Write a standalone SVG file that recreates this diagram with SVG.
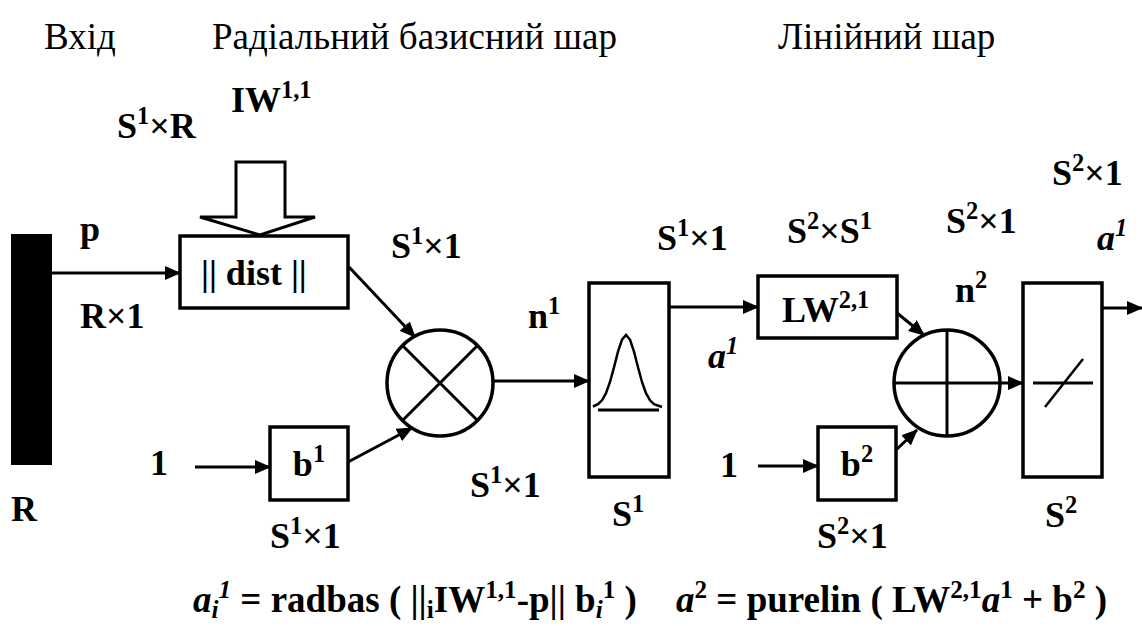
<svg xmlns="http://www.w3.org/2000/svg" width="1142" height="626" viewBox="0 0 1142 626">
<style>
text{font-family:'Liberation Serif','Times New Roman',Times,serif;fill:#000}
.t{font-size:37px}
.l{font-size:36px;font-weight:700}
.f{font-size:37px;font-weight:700}
.s{font-size:68%}
.box{fill:#fff;stroke:#000;stroke-width:3.5}
.ln{fill:none;stroke:#000;stroke-width:3}
.thin{fill:none;stroke:#000;stroke-width:2.5}
</style>
<defs>
<marker id="ah" markerUnits="userSpaceOnUse" markerWidth="16" markerHeight="14" refX="15" refY="7" orient="auto">
<path d="M0,0 L16,7 L0,14 Z" fill="#000"/>
</marker>
</defs>
<rect width="1142" height="626" fill="#fff"/>

<g id="titles">
<text class="t" x="44" y="49">Вхід</text>
<text class="t" x="212" y="49">Радіальний базисний шар</text>
<text class="t" x="778" y="49">Лінійний шар</text>
</g>

<g id="input">
<rect x="11" y="234" width="41" height="231" fill="#000"/>
<text class="l" x="80" y="241">p</text>
<text class="l" x="80" y="328">R×1</text>
<text class="l" x="11" y="521">R</text>
</g>

<g id="weight-input">
<polygon points="236,162 285,162 285,217 315,217 260,235 200,217 236,217" fill="#fff" stroke="#000" stroke-width="3"/>
<text class="l" x="231" y="112">IW<tspan class="s" dy="-14">1,1</tspan></text>
<text class="l" x="117" y="138">S<tspan class="s" dy="-14">1</tspan><tspan dy="14">×R</tspan></text>
</g>

<g id="dist">
<rect class="box" x="180" y="236" width="168" height="72"/>
<text class="l" x="201" y="285">|| dist ||</text>
</g>

<g id="bias1">
<text class="l" x="150" y="475">1</text>
<rect class="box" x="270" y="427" width="78" height="73"/>
<text class="l" x="309" y="476" text-anchor="middle">b<tspan class="s" dy="-14">1</tspan></text>
<text class="l" x="270" y="548">S<tspan class="s" dy="-14">1</tspan><tspan dy="14">×1</tspan></text>
</g>

<g id="mult">
<circle class="box" cx="440" cy="383" r="53"/>
<line class="ln" x1="403" y1="346" x2="477" y2="420"/>
<line class="ln" x1="477" y1="346" x2="403" y2="420"/>
<text class="l" x="391" y="258">S<tspan class="s" dy="-14">1</tspan><tspan dy="14">×1</tspan></text>
<text class="l" x="470" y="497">S<tspan class="s" dy="-14">1</tspan><tspan dy="14">×1</tspan></text>
<text class="l" x="528" y="328">n<tspan class="s" dy="-14">1</tspan></text>
</g>

<g id="radbas">
<rect class="box" x="589" y="283" width="80" height="194"/>
<polyline class="thin" points="593,406.5 598,404.2 602,400.3 606,393.2 610,382 614,367.3 618,351.7 622,339.6 626,335 630,339.6 634,351.7 638,367.3 642,382 646,393.2 650,400.3 654,404.2 662,407"/>
<line class="ln" x1="598" y1="410" x2="659" y2="410"/>
<text class="l" x="612" y="526">S<tspan class="s" dy="-14">1</tspan></text>
<text class="l" x="657" y="250">S<tspan class="s" dy="-14">1</tspan><tspan dy="14">×1</tspan></text>
<text class="l" x="708" y="368" font-style="italic">a<tspan class="s" dy="-14">1</tspan></text>
</g>

<g id="lw">
<rect class="box" x="758" y="276" width="139" height="62"/>
<text class="l" x="782" y="322">LW<tspan class="s" dy="-14">2,1</tspan></text>
<text class="l" x="787" y="243">S<tspan class="s" dy="-14">2</tspan><tspan dy="14">×S</tspan><tspan class="s" dy="-14">1</tspan></text>
</g>

<g id="bias2">
<text class="l" x="720" y="477">1</text>
<rect class="box" x="818" y="427" width="78" height="73"/>
<text class="l" x="857" y="476" text-anchor="middle">b<tspan class="s" dy="-14">2</tspan></text>
<text class="l" x="817" y="548">S<tspan class="s" dy="-14">2</tspan><tspan dy="14">×1</tspan></text>
</g>

<g id="sum">
<circle class="box" cx="947" cy="383" r="53"/>
<line class="ln" x1="947" y1="330" x2="947" y2="436"/>
<line class="ln" x1="894" y1="383" x2="1000" y2="383"/>
<text class="l" x="946" y="233">S<tspan class="s" dy="-14">2</tspan><tspan dy="14">×1</tspan></text>
<text class="l" x="955" y="302">n<tspan class="s" dy="-14">2</tspan></text>
</g>

<g id="purelin">
<rect class="box" x="1023" y="283" width="79" height="194"/>
<line class="ln" x1="1033" y1="383" x2="1093" y2="383"/>
<line class="thin" x1="1045" y1="407" x2="1083" y2="359"/>
<text class="l" x="1045" y="527">S<tspan class="s" dy="-14">2</tspan></text>
<text class="l" x="1052" y="185">S<tspan class="s" dy="-14">2</tspan><tspan dy="14">×1</tspan></text>
<text class="l" x="1097" y="250" font-style="italic">a<tspan class="s" dy="-14">1</tspan></text>
</g>

<g id="connectors">
<line class="ln" x1="52" y1="273" x2="180" y2="273" marker-end="url(#ah)"/>
<line class="ln" x1="349" y1="267" x2="415" y2="337" marker-end="url(#ah)"/>
<line class="ln" x1="195" y1="467" x2="270" y2="467" marker-end="url(#ah)"/>
<line class="ln" x1="348" y1="462" x2="412" y2="428" marker-end="url(#ah)"/>
<line class="ln" x1="493" y1="381" x2="589" y2="381" marker-end="url(#ah)"/>
<line class="ln" x1="669" y1="307" x2="758" y2="307" marker-end="url(#ah)"/>
<line class="ln" x1="897" y1="313" x2="924" y2="335" marker-end="url(#ah)"/>
<line class="ln" x1="758" y1="466" x2="818" y2="466" marker-end="url(#ah)"/>
<line class="ln" x1="896" y1="450" x2="917" y2="430" marker-end="url(#ah)"/>
<line class="ln" x1="1000" y1="383" x2="1023" y2="383" marker-end="url(#ah)"/>
<line class="ln" x1="1102" y1="308" x2="1142" y2="308" marker-end="url(#ah)"/>
</g>

<g id="formula">
<text class="f" x="193" y="612"><tspan font-style="italic">a</tspan><tspan class="s" font-style="italic" dy="6">i</tspan><tspan class="s" font-style="italic" dy="-20">1</tspan><tspan dy="14"> = radbas ( ||</tspan><tspan class="s" dy="6">i</tspan><tspan dy="-6">IW</tspan><tspan class="s" dy="-14">1,1</tspan><tspan dy="14">-p|| b</tspan><tspan class="s" font-style="italic" dy="6">i</tspan><tspan class="s" dy="-20">1</tspan><tspan dy="14"> )</tspan></text>
<text class="f" x="676" y="612"><tspan font-style="italic">a</tspan><tspan class="s" dy="-14">2</tspan><tspan dy="14"> = purelin ( LW</tspan><tspan class="s" dy="-14">2,1</tspan><tspan font-style="italic" dy="14">a</tspan><tspan class="s" dy="-14">1</tspan><tspan dy="14"> + b</tspan><tspan class="s" dy="-14">2</tspan><tspan dy="14"> )</tspan></text>
</g>
</svg>
